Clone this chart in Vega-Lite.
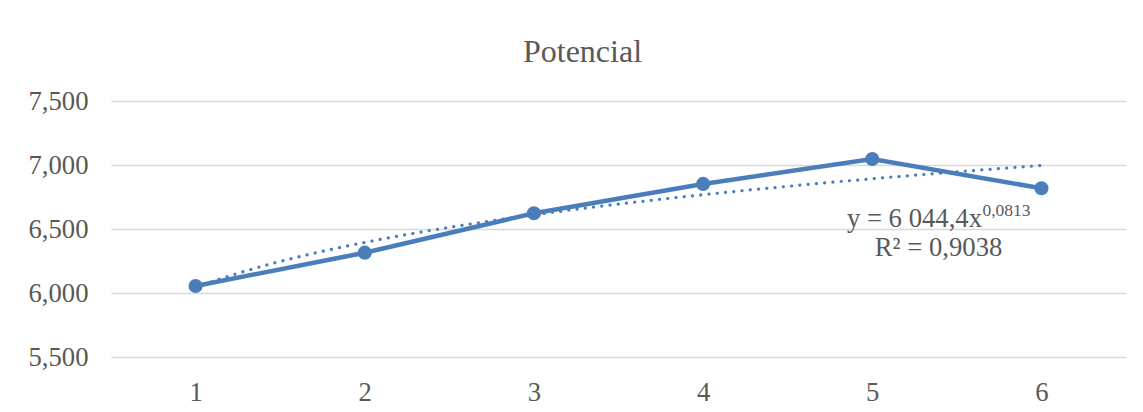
{
  "$schema": "https://vega.github.io/schema/vega-lite/v6.json",
  "width": 1015,
  "height": 256,
  "autosize": {"type": "none"},
  "padding": {"left": 111, "top": 101, "right": 17, "bottom": 55},
  "background": "white",
  "title": {
    "text": "Potencial",
    "anchor": "middle",
    "frame": "group",
    "dx": -36,
    "offset": -6,
    "baseline": "alphabetic",
    "font": "Liberation Serif",
    "fontSize": 32,
    "fontWeight": "normal",
    "color": "#595959"
  },
  "config": {
    "view": {"stroke": null},
    "axis": {
      "labelFont": "Liberation Serif",
      "labelFontSize": 26.7,
      "labelColor": "#595959",
      "domain": false,
      "ticks": false,
      "title": null
    },
    "text": {
      "font": "Liberation Serif",
      "color": "#595959",
      "baseline": "alphabetic"
    }
  },
  "layer": [
    {
      "data": {
        "values": [
          {"n": 1, "value": 6055},
          {"n": 2, "value": 6315},
          {"n": 3, "value": 6623},
          {"n": 4, "value": 6852},
          {"n": 5, "value": 7047},
          {"n": 6, "value": 6818}
        ]
      },
      "encoding": {
        "x": {
          "field": "n",
          "type": "quantitative",
          "scale": {"domain": [0.5, 6.5], "nice": false, "zero": false},
          "axis": {
            "values": [1, 2, 3, 4, 5, 6],
            "format": "d",
            "grid": false,
            "labelPadding": 22,
            "labelBaseline": "top"
          }
        },
        "y": {
          "field": "value",
          "type": "quantitative",
          "scale": {"domain": [5500, 7500], "nice": false, "zero": false},
          "axis": {
            "values": [5500, 6000, 6500, 7000, 7500],
            "format": ",d",
            "grid": true,
            "gridColor": "#d9d9d9",
            "gridWidth": 1.5,
            "labelPadding": 23
          }
        }
      },
      "layer": [
        {
          "mark": {
            "type": "line",
            "color": "#4a7ebb",
            "strokeWidth": 4.5,
            "point": {"filled": true, "size": 200, "color": "#4a7ebb"}
          }
        },
        {
          "transform": [
            {"regression": "value", "on": "n", "method": "pow", "extent": [1, 6]}
          ],
          "mark": {
            "type": "line",
            "color": "#4a7ebb",
            "strokeWidth": 3.2,
            "strokeCap": "round",
            "strokeDash": [0.1, 8.2]
          }
        }
      ]
    },
    {
      "data": {
        "values": [
          {"label": "y = 6 044,4x", "n": 5.649, "value": 6516}
        ]
      },
      "mark": {"type": "text", "align": "right", "fontSize": 26.7},
      "encoding": {
        "x": {"field": "n", "type": "quantitative"},
        "y": {"field": "value", "type": "quantitative"},
        "text": {"field": "label"}
      }
    },
    {
      "data": {
        "values": [
          {"label": "0,0813", "n": 5.651, "value": 6602}
        ]
      },
      "mark": {"type": "text", "align": "left", "fontSize": 17.5},
      "encoding": {
        "x": {"field": "n", "type": "quantitative"},
        "y": {"field": "value", "type": "quantitative"},
        "text": {"field": "label"}
      }
    },
    {
      "data": {
        "values": [
          {"label": "R² = 0,9038", "n": 5.392, "value": 6291}
        ]
      },
      "mark": {"type": "text", "align": "center", "fontSize": 26.7},
      "encoding": {
        "x": {"field": "n", "type": "quantitative"},
        "y": {"field": "value", "type": "quantitative"},
        "text": {"field": "label"}
      }
    }
  ]
}
